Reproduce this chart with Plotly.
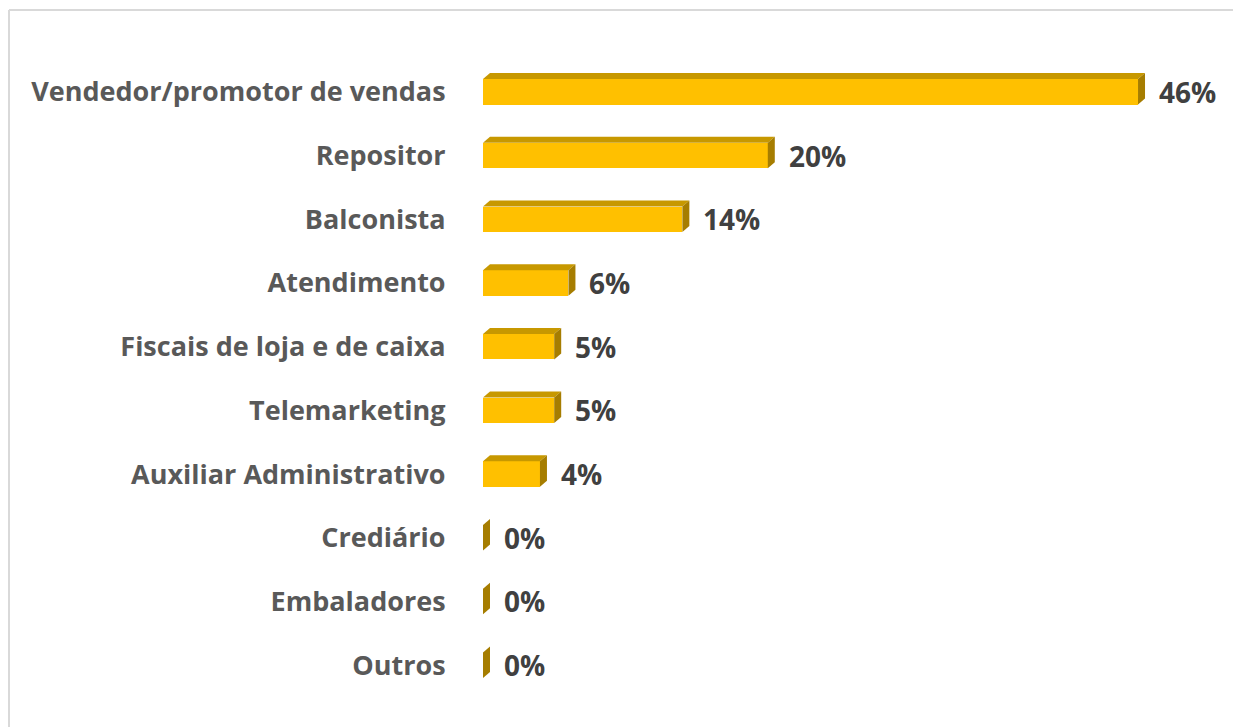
import plotly.graph_objects as go

categories = [
    "Vendedor/promotor de vendas",
    "Repositor",
    "Balconista",
    "Atendimento",
    "Fiscais de loja e de caixa",
    "Telemarketing",
    "Auxiliar Administrativo",
    "Crediário",
    "Embaladores",
    "Outros",
]
values = [0.46, 0.20, 0.14, 0.06, 0.05, 0.05, 0.04, 0.0, 0.0, 0.0]
labels = ["46%", "20%", "14%", "6%", "5%", "5%", "4%", "0%", "0%", "0%"]

# ---- layout / style constants ----
W, H = 1233, 727
ML, MR, MT, MB = 483, 0, 60, 30
XMAX = 0.5267
BAR_W = 0.4
FACE = "#FFC000"
TOP = "#C79800"
SIDE = "#A67D00"
DX, DY = 7, 6          # 3D depth in pixels
LABEL_GAP = 12
FONT = "Open Sans"

n = len(categories)
pos = list(range(n))
plot_h = H - MT - MB
px_per_cat = plot_h / n
half_px = BAR_W / 2 * px_per_cat
x2px = (W - ML - MR) / XMAX

fig = go.Figure()
fig.add_trace(go.Bar(
    x=values, y=pos, orientation="h", width=BAR_W,
    marker=dict(color=FACE, line=dict(width=0)),
    hoverinfo="skip", showlegend=False,
))

shapes = []
for i, v in enumerate(values):
    L = v * x2px
    top = (f"M0,{half_px} L{DX},{half_px + DY} L{L + DX},{half_px + DY} "
           f"L{L},{half_px} Z")
    side = (f"M{L},{half_px} L{L + DX},{half_px + DY} L{L + DX},{-half_px + DY} "
            f"L{L},{-half_px} Z")
    for p, c in ((top, TOP), (side, SIDE)):
        shapes.append(dict(
            type="path", xref="x", yref="y",
            xsizemode="pixel", ysizemode="pixel",
            xanchor=0, yanchor=i, path=p,
            line=dict(width=0), fillcolor=c, layer="above",
        ))

# chart border (top and left edges visible)
bx = (9 - ML) / (W - ML - MR)
by = 1 - (10 - MT) / plot_h
shapes.append(dict(type="line", xref="paper", yref="paper",
                   x0=bx, x1=1.05, y0=by, y1=by,
                   line=dict(color="#D9D9D9", width=2)))
shapes.append(dict(type="line", xref="paper", yref="paper",
                   x0=bx, x1=bx, y0=by, y1=-0.1,
                   line=dict(color="#D9D9D9", width=2)))

annotations = []
for i, (v, t) in enumerate(zip(values, labels)):
    annotations.append(dict(
        x=v, y=i, xref="x", yref="y", text=t, showarrow=False,
        xanchor="left", yanchor="middle", xshift=DX + LABEL_GAP,
        font=dict(family=FONT, size=28, color="#404040", weight="bold"),
    ))

fig.update_layout(
    width=W, height=H, autosize=False,
    margin=dict(l=ML, r=MR, t=MT, b=MB, pad=0),
    paper_bgcolor="white", plot_bgcolor="white",
    shapes=shapes, annotations=annotations,
    xaxis=dict(range=[0, XMAX], visible=False, fixedrange=True),
    yaxis=dict(
        range=[n - 0.5, -0.5], tickmode="array", tickvals=pos, ticktext=categories,
        showgrid=False, zeroline=False, showline=False,
        ticks="outside", ticklen=31, tickcolor="rgba(0,0,0,0)",
        tickfont=dict(family=FONT, size=27, color="#595959", weight="bold"),
        fixedrange=True,
    ),
    bargap=0,
)

fig.write_html(
    "out.html",
    config={"displayModeBar": False},
    post_script="document.body.style.margin='0';document.body.style.overflow='hidden';",
)
